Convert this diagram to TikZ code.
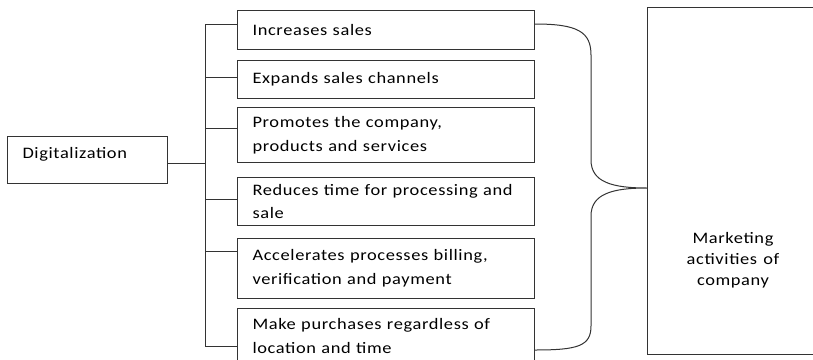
\documentclass[tikz,border=0pt]{standalone}
\usepackage{fontspec}
\setmainfont{Carlito}[FakeStretch=1.15, LetterSpace=4, WordSpace=0.65]
\usetikzlibrary{positioning}

\begin{document}
\begin{tikzpicture}[x=1pt, y=-1pt, line width=1pt]
    \tikzstyle{item} = [rectangle, draw=black!80, anchor=north west, text width=267pt, inner xsep=15pt, inner ysep=2pt, align=left, font=\fontsize{16}{24}\selectfont]
    \tikzstyle{conn} = [draw=black!80]
    \useasboundingbox (0,0) rectangle (813,359);

    \node [rectangle, draw=black!80, anchor=north west, minimum width=160pt, minimum height=47pt, text width=130pt, inner xsep=15pt, align=left, text depth=14pt, font=\fontsize{16}{24}\selectfont] (dig) at (7,136) {Digitalization};

    \node [item, minimum height=39pt] (b1) at (237,10) {Increases sales};
    \node [item, minimum height=38pt] (b2) at (237,60) {Expands sales channels};
    \node [item, minimum height=55pt] (b3) at (237,107) {Promotes the company,\\products and services};
    \node [item, minimum height=48pt] (b4) at (237,177) {Reduces time for processing and\\sale};
    \node [item, minimum height=60pt] (b5) at (237,238) {Accelerates processes billing,\\verification and payment};
    \node [item, minimum height=54pt] (b6) at (237,308) {Make purchases regardless of\\location and time};

    \node [rectangle, draw=black!80, anchor=north west, minimum width=172pt, minimum height=347pt] (mkt) at (647,7) {};
    \node [align=center, font=\fontsize{16}{21}\selectfont] (mtxt) at (733,260) {Marketing\\activities\hspace{3pt} of\\company};

    % bus from Digitalization to the boxes
    \coordinate (bt) at (205,24);
    \coordinate (bb) at (205,346);
    \coordinate (dj) at (205,163);
    \draw [conn] (dig.east |- dj) -- (dj);
    \draw [conn] (b1.west |- bt) -- (bt) -- (bb) -- (b6.west |- bb);
    \foreach \n/\y in {b2/77, b3/128, b4/199, b5/251}
        \draw [conn] (bt |- 0,\y) -- (\n.west |- 0,\y);

    % brace into the marketing box
    \coordinate (tip) at (mkt.west |- 0,188);
    \draw [conn] (b1.east |- bt) .. controls (578,24) and (591,32) .. (591,55) -- (591,160)
        .. controls (591,182) and (612,188) .. (tip)
        .. controls (612,188) and (591,194) .. (591,216) -- (591,326)
        .. controls (591,346) and (578,350) .. (b6.east |- 0,350);
\end{tikzpicture}
\end{document}
